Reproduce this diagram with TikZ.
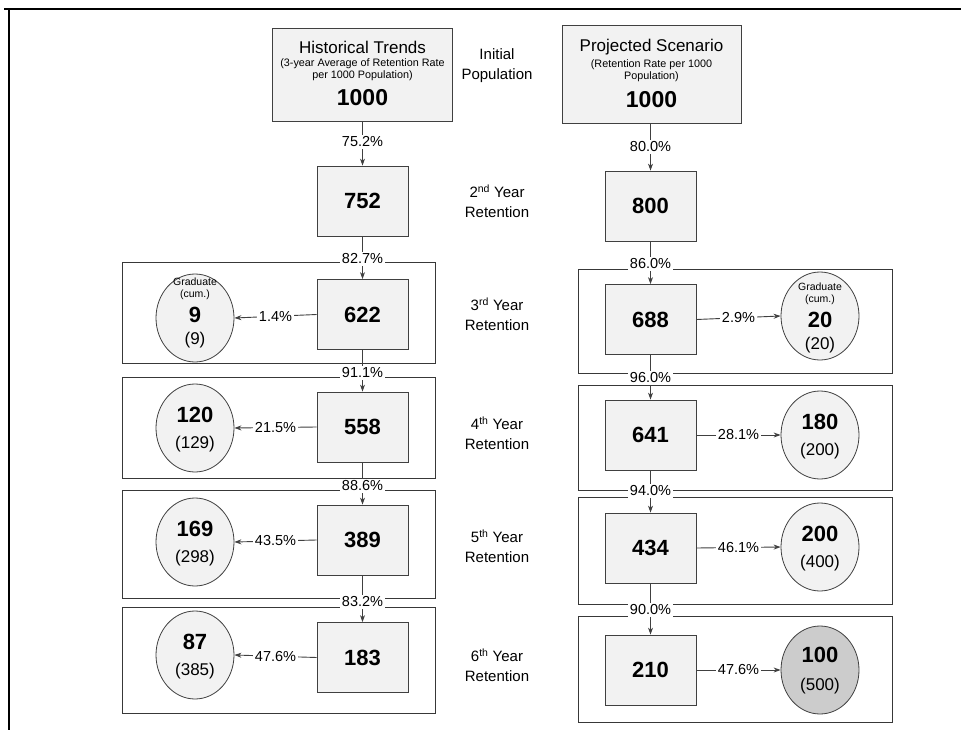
\documentclass[tikz,border=0pt]{standalone}
\usepackage{fontspec}
\setmainfont{Liberation Sans}
\usetikzlibrary{shapes.geometric,arrows.meta}
\definecolor{boxline}{gray}{0.25}
\definecolor{groupline}{gray}{0.22}
\definecolor{boxfill}{gray}{0.95}
\definecolor{darkfill}{gray}{0.80}
\newcommand\fz[2]{\fontsize{#1}{#2}\selectfont}
\begin{document}
\begin{tikzpicture}[x=1pt,y=-1pt,
  stagebox/.style={draw=boxline, fill=boxfill, line width=0.8pt, minimum width=91pt, minimum height=70pt, inner sep=0pt, font=\fz{22}{26}\bfseries},
  headbox/.style={draw=boxline, fill=boxfill, line width=0.8pt, minimum width=180pt, inner sep=0pt},
  gradell/.style={ellipse, draw=boxline, fill=boxfill, line width=0.8pt, minimum width=78pt, minimum height=88pt, inner sep=0pt},
  groupbox/.style={draw=groupline, line width=0.8pt, fill=white, inner sep=0pt},
  pct/.style={fill=white, inner sep=1.5pt, font=\fz{14.5}{16}},
  flow/.style={draw=boxline, line width=0.9pt, -{Stealth[length=7pt,width=5pt]}},
  yearlab/.style={align=center, font=\fz{15}{20}},
  titletxt/.style={inner sep=0pt, font=\fz{17}{19}},
  subtxt/.style={inner sep=0pt, font=\fz{10.8}{12}},
  bignum/.style={inner sep=0pt, font=\fz{23}{25}\bfseries},
  gradnum/.style={inner sep=0pt, font=\fz{22}{24}\bfseries},
  cumnum/.style={inner sep=0pt, font=\fz{17}{19}},
  tinytxt/.style={inner sep=0pt, font=\fz{10.5}{12}},
  frameline/.style={draw=black, line width=1.4pt}
]
\useasboundingbox (0,0) rectangle (961,730);
% frame
\coordinate (fa) at (4,9);
\coordinate (fb) at (961,9);
\coordinate (fc) at (9,730);
\coordinate (fd) at (9,9);
\draw[frameline] (fb) -- (fa);
\draw[frameline] (fd) -- (fc);

% group boxes
\node[groupbox, minimum width=313pt, minimum height=101pt] (gL3) at (278.5,312.5) {};
\node[groupbox, minimum width=313pt, minimum height=101pt] (gL4) at (278.5,427.5) {};
\node[groupbox, minimum width=313pt, minimum height=108pt] (gL5) at (278.5,544) {};
\node[groupbox, minimum width=313pt, minimum height=106pt] (gL6) at (278.5,660) {};
\node[groupbox, minimum width=314pt, minimum height=104pt] (gR3) at (735,321) {};
\node[groupbox, minimum width=314pt, minimum height=105pt] (gR4) at (735,437.5) {};
\node[groupbox, minimum width=314pt, minimum height=107pt] (gR5) at (735,550.5) {};
\node[groupbox, minimum width=314pt, minimum height=106pt] (gR6) at (735,669) {};

% header boxes
\node[headbox, minimum height=93pt] (hist) at (362.5,74.5) {};
\node[titletxt] (histT) at (362.5,47) {Historical Trends};
\node[subtxt] (histS1) at (362.5,63.5) {(3-year Average of Retention Rate};
\node[subtxt] (histS2) at (362.5,75.5) {per 1000 Population)};
\node[bignum] (histN) at (362.5,98) {1000};
\node[headbox, minimum width=179pt, minimum height=98pt] (proj) at (651.5,74) {};
\node[titletxt] (projT) at (651.5,47) {Projected Scenario};
\node[subtxt] (projS1) at (651.5,64.5) {(Retention Rate per 1000};
\node[subtxt] (projS2) at (651.5,76.5) {Population)};
\node[bignum] (projN) at (651.5,100) {1000};

% left stage boxes
\node[stagebox] (L2) at (362.5,201) {752};
\node[stagebox] (L3) at (362.5,314.5) {622};
\node[stagebox] (L4) at (362.5,427) {558};
\node[stagebox] (L5) at (362.5,540) {389};
\node[stagebox] (L6) at (362.5,657.5) {183};
% right stage boxes
\node[stagebox] (R2) at (650.5,206) {800};
\node[stagebox] (R3) at (650.5,319.5) {688};
\node[stagebox] (R4) at (650.5,435) {641};
\node[stagebox] (R5) at (650.5,548) {434};
\node[stagebox] (R6) at (650.5,670) {210};

% graduate ellipses
\node[gradell] (E3) at (195,318) {};
\node[tinytxt] (E3a) at (195,282) {Graduate};
\node[tinytxt] (E3b) at (195,295) {(cum.)};
\node[gradnum] (E3n) at (195,315) {9};
\node[cumnum] (E3c) at (195,340) {(9)};
\node[gradell] (E4) at (195,428) {};
\node[gradnum] (E4n) at (195,415) {120};
\node[cumnum] (E4c) at (195,444) {(129)};
\node[gradell] (E5) at (195,542) {};
\node[gradnum] (E5n) at (195,529) {169};
\node[cumnum] (E5c) at (195,558) {(298)};
\node[gradell] (E6) at (195,655) {};
\node[gradnum] (E6n) at (195,642) {87};
\node[cumnum] (E6c) at (195,671) {(385)};

\node[gradell] (F3) at (820,316) {};
\node[tinytxt] (F3a) at (820,287) {Graduate};
\node[tinytxt] (F3b) at (820,300) {(cum.)};
\node[gradnum] (F3n) at (820,320) {20};
\node[cumnum] (F3c) at (820,345) {(20)};
\node[gradell] (F4) at (820,435) {};
\node[gradnum] (F4n) at (820,422) {180};
\node[cumnum] (F4c) at (820,451) {(200)};
\node[gradell] (F5) at (820,547) {};
\node[gradnum] (F5n) at (820,534) {200};
\node[cumnum] (F5c) at (820,563) {(400)};
\node[gradell, fill=darkfill] (F6) at (820,670) {};
\node[gradnum] (F6n) at (820,655) {100};
\node[cumnum] (F6c) at (820,686) {(500)};

% middle labels
\node[yearlab] (y1) at (497,66) {Initial\\Population};
\node[yearlab] (y2) at (497,201) {2\textsuperscript{nd} Year\\Retention};
\node[yearlab] (y3) at (497,314) {3\textsuperscript{rd} Year\\Retention};
\node[yearlab] (y4) at (497,433) {4\textsuperscript{th} Year\\Retention};
\node[yearlab] (y5) at (497,546) {5\textsuperscript{th} Year\\Retention};
\node[yearlab] (y6) at (497,665) {6\textsuperscript{th} Year\\Retention};

% vertical flows
\draw[flow] (hist.south) -- (L2.north);
\draw[flow] (L2.south) -- (L3.north);
\draw[flow] (L3.south) -- (L4.north);
\draw[flow] (L4.south) -- (L5.north);
\draw[flow] (L5.south) -- (L6.north);
\draw[flow] (proj.south -| R2.north) -- (R2.north);
\draw[flow] (R2.south) -- (R3.north);
\draw[flow] (R3.south) -- (R4.north);
\draw[flow] (R4.south) -- (R5.north);
\draw[flow] (R5.south) -- (R6.north);

% horizontal flows
\draw[flow] (L3.west) -- node[pct] (h3) {1.4\%} (E3.east);
\draw[flow] (L4.west) -- node[pct] (h4) {21.5\%} (E4.east);
\draw[flow] (L5.west) -- node[pct] (h5) {43.5\%} (E5.east);
\draw[flow] (L6.west) -- node[pct] (h6) {47.6\%} (E6.east);
\draw[flow] (R3.east) -- node[pct] (k3) {2.9\%} (F3.west);
\draw[flow] (R4.east) -- node[pct] (k4) {28.1\%} (F4.west);
\draw[flow] (R5.east) -- node[pct] (k5) {46.1\%} (F5.west);
\draw[flow] (R6.east) -- node[pct] (k6) {47.6\%} (F6.west);

% vertical percent labels
\node[pct] (p2) at (362.5,142) {75.2\%};
\node[pct] (p3) at (362.5,259) {82.7\%};
\node[pct] (p4) at (362.5,373) {91.1\%};
\node[pct] (p5) at (362.5,486) {88.6\%};
\node[pct] (p6) at (362.5,602) {83.2\%};
\node[pct] (q2) at (650.5,147) {80.0\%};
\node[pct] (q3) at (650.5,264) {86.0\%};
\node[pct] (q4) at (650.5,378) {96.0\%};
\node[pct] (q5) at (650.5,491) {94.0\%};
\node[pct] (q6) at (650.5,610) {90.0\%};
\end{tikzpicture}
\end{document}
